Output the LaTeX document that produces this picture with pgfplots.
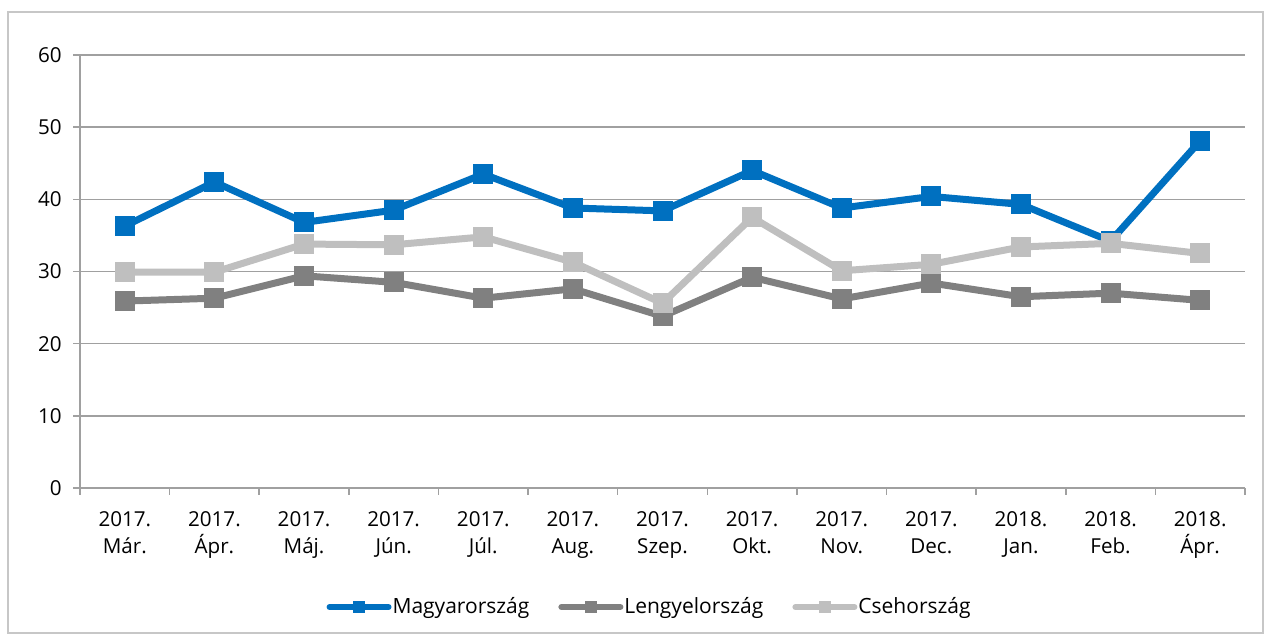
\documentclass[border=0pt]{standalone}
\usepackage{fontspec}
\setmainfont{Open Sans}
\usepackage{pgfplots}
\pgfplotsset{compat=1.18}
\definecolor{hu}{HTML}{0070C0}
\definecolor{pl}{HTML}{808080}
\definecolor{cz}{HTML}{BFBFBF}
\definecolor{gridc}{HTML}{A0A0A0}
\begin{document}
\fontsize{10.3}{12}\selectfont
\begin{tikzpicture}
\path[use as bounding box] (0pt,0pt) rectangle (635.5pt,318.5pt);
\draw[color=black!22, line width=0.8pt] (4pt,2pt) rectangle (631.5pt,312.5pt);
\begin{axis}[
  at={(40pt,74.5pt)}, anchor=south west,
  scale only axis, width=582.5pt, height=216.5pt,
  xmin=-0.5, xmax=12.5, ymin=0, ymax=60,
  ytick={0,10,...,60},
  xtick={0,...,12},
  xticklabels={{2017.\\Már.},{2017.\\Ápr.},{2017.\\Máj.},{2017.\\Jún.},{2017.\\Júl.},{2017.\\Aug.},{2017.\\Szep.},{2017.\\Okt.},{2017.\\Nov.},{2017.\\Dec.},{2018.\\Jan.},{2018.\\Feb.},{2018.\\Ápr.}},
  minor xtick={-0.5,0.5,...,12.5},
  axis lines*=left,
  axis line style={gridc, line width=0.8pt, -},
  ymajorgrids,
  major grid style={gridc, line width=0.8pt},
  tick align=outside,
  major tick length=3.5pt, minor tick length=3.5pt,
  major x tick style={draw=none},
  minor x tick style={draw=gridc, line width=0.8pt},
  major y tick style={draw=gridc, line width=0.8pt},
  xticklabel style={align=center, font=\fontsize{10.3}{13.6}\selectfont, yshift=-4.5pt},
  yticklabel style={font=\fontsize{10.3}{12}\selectfont, xshift=-2pt},
  /pgf/number format/assume math mode=true,
  clip=false,
  legend columns=3,
  legend style={draw=none, fill=none, at={(0.4885,-0.275)}, anchor=center,
    /tikz/every odd column/.append style={column sep=0pt},
    /tikz/every even column/.append style={column sep=14pt},
    nodes={inner sep=0.5pt},
    inner sep=0pt, font=\fontsize{10.5}{12}\selectfont},
  legend cell align=left,
  legend image code/.code={
    \draw[#1, line width=3pt, line cap=round, mark=none] (0pt,0pt) -- (29.5pt,0pt);
    \draw[#1, mark size=2.6pt, line width=0pt] plot coordinates {(14.75pt,0pt)};
  },
]
\addplot[hu, line width=3.5pt, mark=square*, mark size=4.75pt, mark options={solid, line width=0pt}] coordinates {
(0,36.3) (1,42.4) (2,36.8) (3,38.5) (4,43.5) (5,38.8) (6,38.4) (7,44.0) (8,38.8) (9,40.4) (10,39.3) (11,34.2) (12,48.1)};
\addlegendentry{Magyarország}
\addplot[pl, line width=3.5pt, mark=square*, mark size=4.75pt, mark options={solid, line width=0pt}] coordinates {
(0,25.9) (1,26.3) (2,29.4) (3,28.5) (4,26.3) (5,27.6) (6,23.8) (7,29.2) (8,26.2) (9,28.4) (10,26.5) (11,27.0) (12,26.0)};
\addlegendentry{Lengyelország}
\addplot[cz, line width=3.5pt, mark=square*, mark size=4.75pt, mark options={solid, line width=0pt}] coordinates {
(0,29.9) (1,29.9) (2,33.8) (3,33.7) (4,34.8) (5,31.3) (6,25.6) (7,37.5) (8,30.1) (9,31.0) (10,33.4) (11,33.9) (12,32.5)};
\addlegendentry{Csehország}
\end{axis}
\end{tikzpicture}
\end{document}
